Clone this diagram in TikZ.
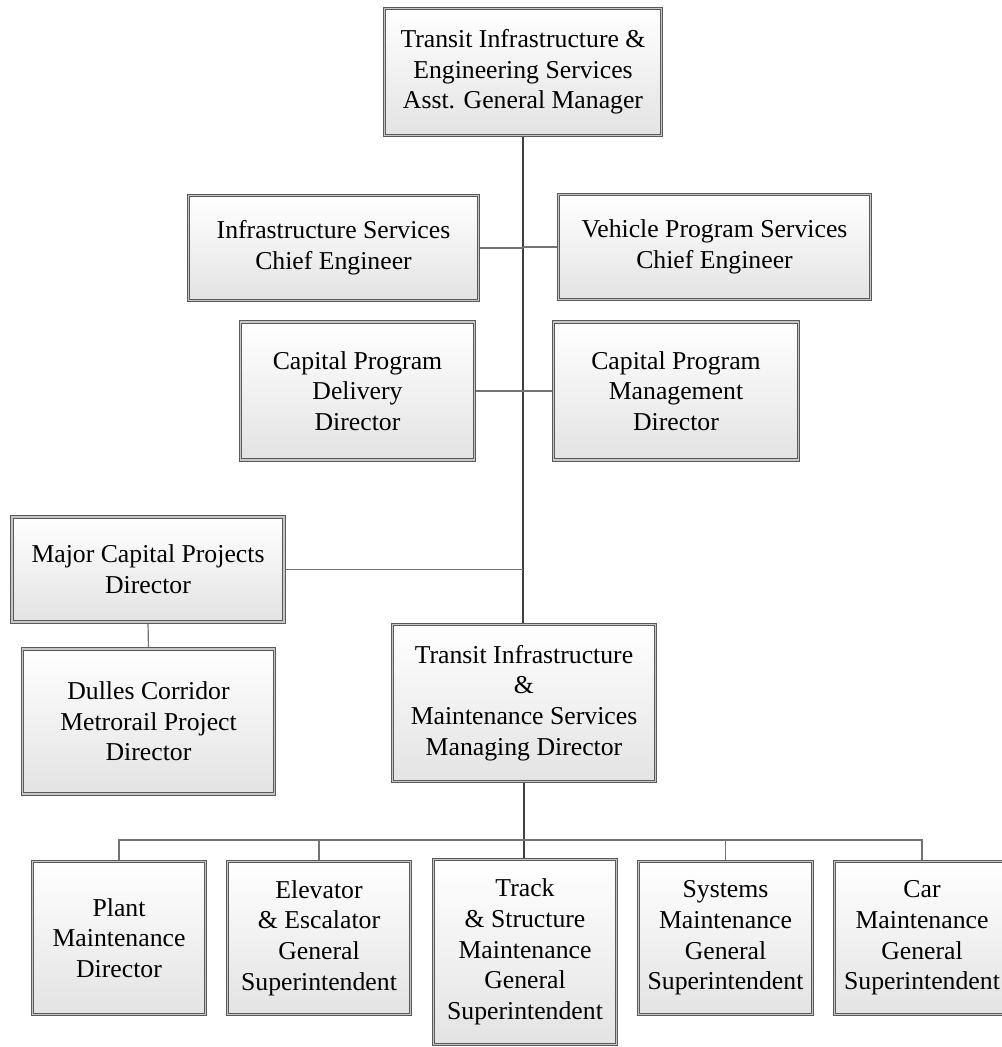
\documentclass[tikz,border=0pt]{standalone}
\usepackage{fontspec}
\setmainfont{Liberation Serif}
\usetikzlibrary{shadows,backgrounds}
\tikzset{
  orgbox/.style={draw=black!65, double=black!22, double distance=1.1pt, line width=0.6pt,
    top color=white, bottom color=black!11, align=center, inner sep=0pt,
    font=\fontsize{19.3pt}{23pt}\selectfont,
    drop shadow={shadow xshift=1.2pt, shadow yshift=-1.4pt, opacity=0.22, fill=black}},
  trunk/.style={draw=black!75, line width=1.1pt},
  branch/.style={draw=black!55, line width=0.9pt}
}
\begin{document}
\begin{tikzpicture}[x=0.75pt,y=-0.75pt]
\useasboundingbox (0,0) rectangle (1002,1047);
\node[orgbox, minimum width=207.75pt, minimum height=95.25pt] (top) at (523,72)
  {Transit Infrastructure \&\\Engineering Services\\Asst. General Manager};
\node[orgbox, minimum width=217.5pt, minimum height=78.75pt] (infra) at (333.5,248)
  {Infrastructure Services\\Chief Engineer};
\node[orgbox, minimum width=234pt, minimum height=78.75pt] (vehicle) at (714.5,247)
  {Vehicle Program Services\\Chief Engineer};
\node[orgbox, minimum width=175.5pt, minimum height=103.5pt] (capdel) at (357.5,391)
  {Capital Program\\Delivery\\Director};
\node[orgbox, minimum width=183.75pt, minimum height=103.5pt] (capmgmt) at (676,391)
  {Capital Program\\Management\\Director};
\node[orgbox, minimum width=204pt, minimum height=78.75pt] (major) at (148,569.5)
  {Major Capital Projects\\Director};
\node[orgbox, minimum width=189pt, minimum height=108.75pt] (dulles) at (148.5,721.5)
  {Dulles Corridor\\Metrorail Project\\Director};
\node[orgbox, minimum width=197.25pt, minimum height=117.75pt] (managing) at (524,703)
  {Transit Infrastructure\\\&\\Maintenance Services\\Managing Director};
\node[orgbox, minimum width=129.75pt, minimum height=114.75pt] (plant) at (119,938)
  {Plant\\Maintenance\\Director};
\node[orgbox, minimum width=137.25pt, minimum height=114.75pt] (elevator) at (319,938)
  {Elevator\\\& Escalator\\General\\Superintendent};
\node[orgbox, minimum width=137.25pt, minimum height=138.75pt] (track) at (525,952)
  {Track\\\& Structure\\Maintenance\\General\\Superintendent};
\node[orgbox, minimum width=130.5pt, minimum height=114.75pt] (systems) at (725.5,938)
  {Systems\\Maintenance\\General\\Superintendent};
\node[orgbox, minimum width=131.25pt, minimum height=114.75pt] (car) at (922,938)
  {Car\\Maintenance\\General\\Superintendent};
\coordinate (bus) at (524,840);
\begin{scope}[on background layer]
  \fill[white] (0,0) rectangle (1002,1047);
  \draw[trunk] (top.south) -- (top.south |- managing.north);
  \draw[branch] (infra.east) -- (infra.east -| top.south);
  \draw[branch] (vehicle.west) -- (vehicle.west -| top.south);
  \draw[branch] (capdel.east) -- (capdel.east -| top.south);
  \draw[branch] (capmgmt.west) -- (capmgmt.west -| top.south);
  \draw[branch] (major.east) -- (major.east -| top.south);
  \draw[branch] (major.south) -- (dulles.north);
  \draw[trunk] (managing.south) -- (managing.south |- track.north);
  \draw[branch] (plant.north) -- (plant.north |- bus) -- (car.north |- bus) -- (car.north);
  \draw[branch] (elevator.north) -- (elevator.north |- bus);
  \draw[branch] (systems.north) -- (systems.north |- bus);
\end{scope}
\end{tikzpicture}
\end{document}
